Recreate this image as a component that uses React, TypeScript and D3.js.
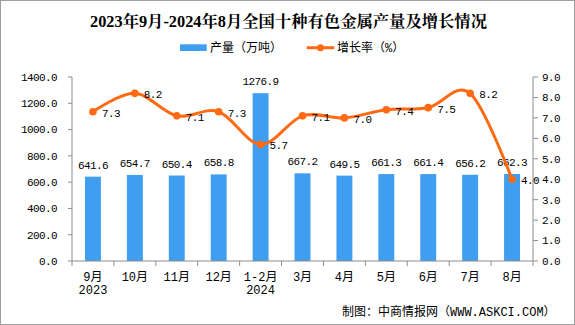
import React from "react";
import * as d3 from "d3";

const title = "2023年9月-2024年8月全国十种有色金属产量及增长情况";
const categories = ["9月", "10月", "11月", "12月", "1-2月", "3月", "4月", "5月", "6月", "7月", "8月"];
const subLabels = ["2023", "", "", "", "2024", "", "", "", "", "", ""];
const production = [641.6, 654.7, 650.4, 658.8, 1276.9, 667.2, 649.5, 661.3, 661.4, 656.2, 662.3];
const growth = [7.3, 8.2, 7.1, 7.3, 5.7, 7.1, 7.0, 7.4, 7.5, 8.2, 4.0];
const leftTicks = [0, 200, 400, 600, 800, 1000, 1200, 1400];
const rightTicks = [0, 1, 2, 3, 4, 5, 6, 7, 8, 9];
const legendBar = "产量（万吨）";
const legendLine = "增长率（%）";
const footer = "制图：中商情报网（WWW.ASKCI.COM）";

const W = 575, H = 325;
const plot = { left: 72, right: 533, top: 77, bottom: 261 };
const BLUE = "#409EF0";
const ORANGE = "#FF6A13";
const AXIS = "#8c8c8c";
const NUM_FONT = "'Liberation Mono', 'Noto Sans CJK SC', monospace";

export default function App() {
  const x = d3.scaleBand<string>().domain(categories).range([plot.left, plot.right]).paddingInner(0.62).paddingOuter(0.31);
  const xb = d3.scaleBand<string>().domain(categories).range([plot.left, plot.right]);
  const yL = d3.scaleLinear().domain([0, 1400]).range([plot.bottom, plot.top]);
  const yR = d3.scaleLinear().domain([0, 9]).range([plot.bottom, plot.top]);
  const cx = (c: string) => (xb(c) as number) + xb.bandwidth() / 2;
  const line = d3
    .line<number>()
    .x((_, i) => cx(categories[i]))
    .y((d) => yR(d))
    .curve(d3.curveCatmullRom.alpha(0));
  const bounds = categories.map((c) => xb(c) as number).concat([plot.right]);

  return (
    <svg width={W} height={H} style={{ display: "block" }}>
      <style>{`body{margin:0}`}</style>
      <rect x={0} y={0} width={W} height={H} fill="#fff" />
      <rect x={0.5} y={0.5} width={W - 1} height={H - 1} fill="none" stroke="#a0a0a0" />
      <text x={90} y={26.5} textLength={397} lengthAdjust="spacingAndGlyphs" fontFamily="'Liberation Serif', 'Noto Serif CJK SC', 'Noto Sans CJK SC', serif" fontWeight="bold" fontSize={16} fill="#000">
        {title}
      </text>
      {/* legend */}
      <rect x={180} y={44.3} width={26.7} height={6.7} fill={BLUE} />
      <text x={210} y={52} fontFamily={NUM_FONT} fontSize={12} fill="#000">{legendBar}</text>
      <line x1={306.7} x2={334.3} y1={47.7} y2={47.7} stroke={ORANGE} strokeWidth={3} />
      <circle cx={320.5} cy={47.7} r={3.5} fill={ORANGE} />
      <text x={337} y={52} fontFamily={NUM_FONT} fontSize={12} fill="#000">{legendLine}</text>

      {/* bars */}
      {production.map((v, i) => (
        <rect key={"b" + i} x={x(categories[i])} y={yL(v)} width={x.bandwidth()} height={plot.bottom - yL(v)} fill={BLUE} />
      ))}
      {/* bar labels */}
      {production.map((v, i) => (
        <text key={"bl" + i} x={cx(categories[i])} y={yL(v) - 8} textAnchor="middle" fontFamily={NUM_FONT} fontSize={11} letterSpacing={-0.6} fill="#000">
          {v.toFixed(1)}
        </text>
      ))}

      {/* axes */}
      <line x1={plot.left} x2={plot.left} y1={plot.top} y2={plot.bottom} stroke={AXIS} />
      <line x1={plot.right} x2={plot.right} y1={plot.top} y2={plot.bottom} stroke={AXIS} />
      <line x1={plot.left} x2={plot.right} y1={plot.bottom} y2={plot.bottom} stroke={AXIS} />
      {leftTicks.map((t) => (
        <g key={"lt" + t}>
          <line x1={plot.left - 4} x2={plot.left} y1={yL(t)} y2={yL(t)} stroke={AXIS} />
          <text x={57} y={yL(t)} dy="0.35em" textAnchor="end" fontFamily={NUM_FONT} fontSize={11} letterSpacing={-0.6} fill="#000">
            {t.toFixed(1)}
          </text>
        </g>
      ))}
      {rightTicks.map((t) => (
        <g key={"rt" + t}>
          <line x1={plot.right} x2={plot.right + 5} y1={yR(t)} y2={yR(t)} stroke={AXIS} />
          <text x={542} y={yR(t)} dy="0.35em" textAnchor="start" fontFamily={NUM_FONT} fontSize={11} letterSpacing={-0.6} fill="#000">
            {t.toFixed(1)}
          </text>
        </g>
      ))}
      {bounds.map((b, i) => (
        <line key={"xt" + i} x1={b} x2={b} y1={plot.bottom} y2={plot.bottom + 5} stroke={AXIS} />
      ))}
      {categories.map((c, i) => (
        <g key={"xl" + i}>
          <text x={cx(c)} y={281} textAnchor="middle" fontFamily={NUM_FONT} fontSize={12} fill="#000">{c}</text>
          {subLabels[i] && (
            <text x={cx(c)} y={294} textAnchor="middle" fontFamily={NUM_FONT} fontSize={12} fill="#000">{subLabels[i]}</text>
          )}
        </g>
      ))}

      {/* line */}
      <path d={line(growth) || ""} fill="none" stroke={ORANGE} strokeWidth={3} />
      {growth.map((v, i) => (
        <circle key={"p" + i} cx={cx(categories[i])} cy={yR(v)} r={3.8} fill={ORANGE} />
      ))}
      {growth.map((v, i) => (
        <text key={"gl" + i} x={cx(categories[i]) + 9} y={yR(v) + 1} dy="0.35em" fontFamily={NUM_FONT} fontSize={11} letterSpacing={-0.6} fill="#000">
          {v.toFixed(1)}
        </text>
      ))}

      <text x={342} y={316} fontFamily={NUM_FONT} fontSize={12} fill="#000">{footer}</text>
    </svg>
  );
}
